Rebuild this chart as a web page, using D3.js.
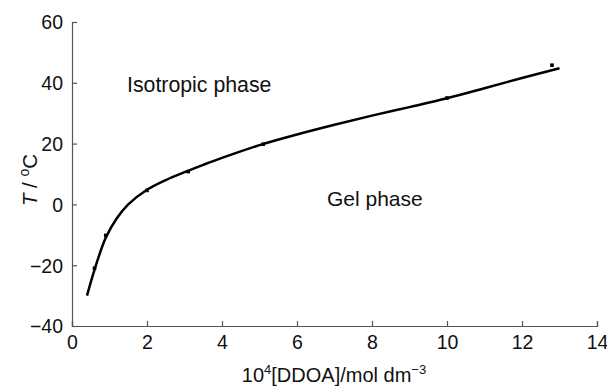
<!DOCTYPE html>
<html><head><meta charset="utf-8">
<script src="https://cdn.jsdelivr.net/npm/d3@7"></script>
<style>
body{margin:0;background:#fff;}
svg{font-family:"Liberation Sans",Arial,Helvetica,sans-serif;}
</style></head>
<body><svg id="c" width="607" height="386"></svg>
<script>
// data
const pointX = [0.6, 0.9, 2.0, 3.1, 5.1, 10.0, 12.8];
const pointT = [-21, -10.2, 4.6, 10.8, 19.8, 35.0, 45.8];
const curveX = [0.4, 0.6, 0.9, 1.2, 1.5, 2.0, 2.5, 3.0, 3.5, 4.0, 5.0, 6.0, 7.0, 8.0, 9.0, 10.0, 11.0, 12.0, 13.0];
const curveT = [-30, -21.5, -11, -4.5, 0, 4.8, 8, 10.6, 13, 15.3, 19.5, 23, 26.2, 29.2, 32, 34.9, 38.2, 41.6, 44.8];
const xTicks = [0, 2, 4, 6, 8, 10, 12, 14];
const yTicks = [-40, -20, 0, 20, 40, 60];
const labels = ["Isotropic phase", "Gel phase"];

const svg = d3.select("#c");
const x = d3.scaleLinear().domain([0, 14]).range([72, 597]);
const y = d3.scaleLinear().domain([-40, 60]).range([326, 22]);

const fmt = d => d < 0 ? "\u2212" + Math.abs(d) : String(d);

const gx = svg.append("g").attr("transform", "translate(0,326)")
  .call(d3.axisBottom(x).tickValues(xTicks).tickSize(-5).tickPadding(9).tickFormat(fmt));
const gy = svg.append("g").attr("transform", "translate(72,0)")
  .call(d3.axisLeft(y).tickValues(yTicks).tickSize(-5).tickPadding(9).tickFormat(fmt));
[gx, gy].forEach(g => {
  g.select(".domain").attr("stroke", "#555").attr("stroke-width", 1.2);
  g.selectAll(".tick line").attr("stroke", "#555").attr("stroke-width", 1.2);
  g.selectAll(".tick text").attr("fill", "#111").style("font-size", "19.5px");
});
gy.selectAll(".tick text").attr("dy", "0.35em");

// curve
const line = d3.line().x(d => x(d[0])).y(d => y(d[1])).curve(d3.curveCatmullRom);
svg.append("path").datum(curveX.map((v, i) => [v, curveT[i]]))
  .attr("d", line).attr("fill", "none").attr("stroke", "#000").attr("stroke-width", 2.5);

// points
svg.selectAll("rect.pt").data(pointX.map((v, i) => [v, pointT[i]])).enter()
  .append("rect").attr("class", "pt")
  .attr("x", d => x(d[0]) - 1.8).attr("y", d => y(d[1]) - 1.8)
  .attr("width", 3.6).attr("height", 3.6).attr("fill", "#000");

// phase labels
svg.append("text").attr("x", 127).attr("y", 92).style("font-size", "21.3px").attr("fill", "#111").text(labels[0]);
svg.append("text").attr("x", 327).attr("y", 206).style("font-size", "21px").attr("fill", "#111").text(labels[1]);

// axis titles
const xt = svg.append("text").attr("x", 334).attr("y", 382).attr("text-anchor", "middle")
  .style("font-size", "20px").attr("fill", "#111");
xt.append("tspan").text("10");
xt.append("tspan").attr("dy", -8).style("font-size", "13px").text("4");
xt.append("tspan").attr("dy", 8).text("[DDOA]/mol dm");
xt.append("tspan").attr("dy", -8).style("font-size", "13px").text("\u22123");

const yt = svg.append("text").attr("transform", "translate(37,180) rotate(-90)")
  .attr("text-anchor", "middle").style("font-size", "20.5px").attr("fill", "#111");
yt.append("tspan").style("font-style", "italic").text("T");
yt.append("tspan").text(" / ");
yt.append("tspan").attr("dy", -8).style("font-size", "14px").text("o");
yt.append("tspan").attr("dy", 8).text("C");
</script>
</body></html>
